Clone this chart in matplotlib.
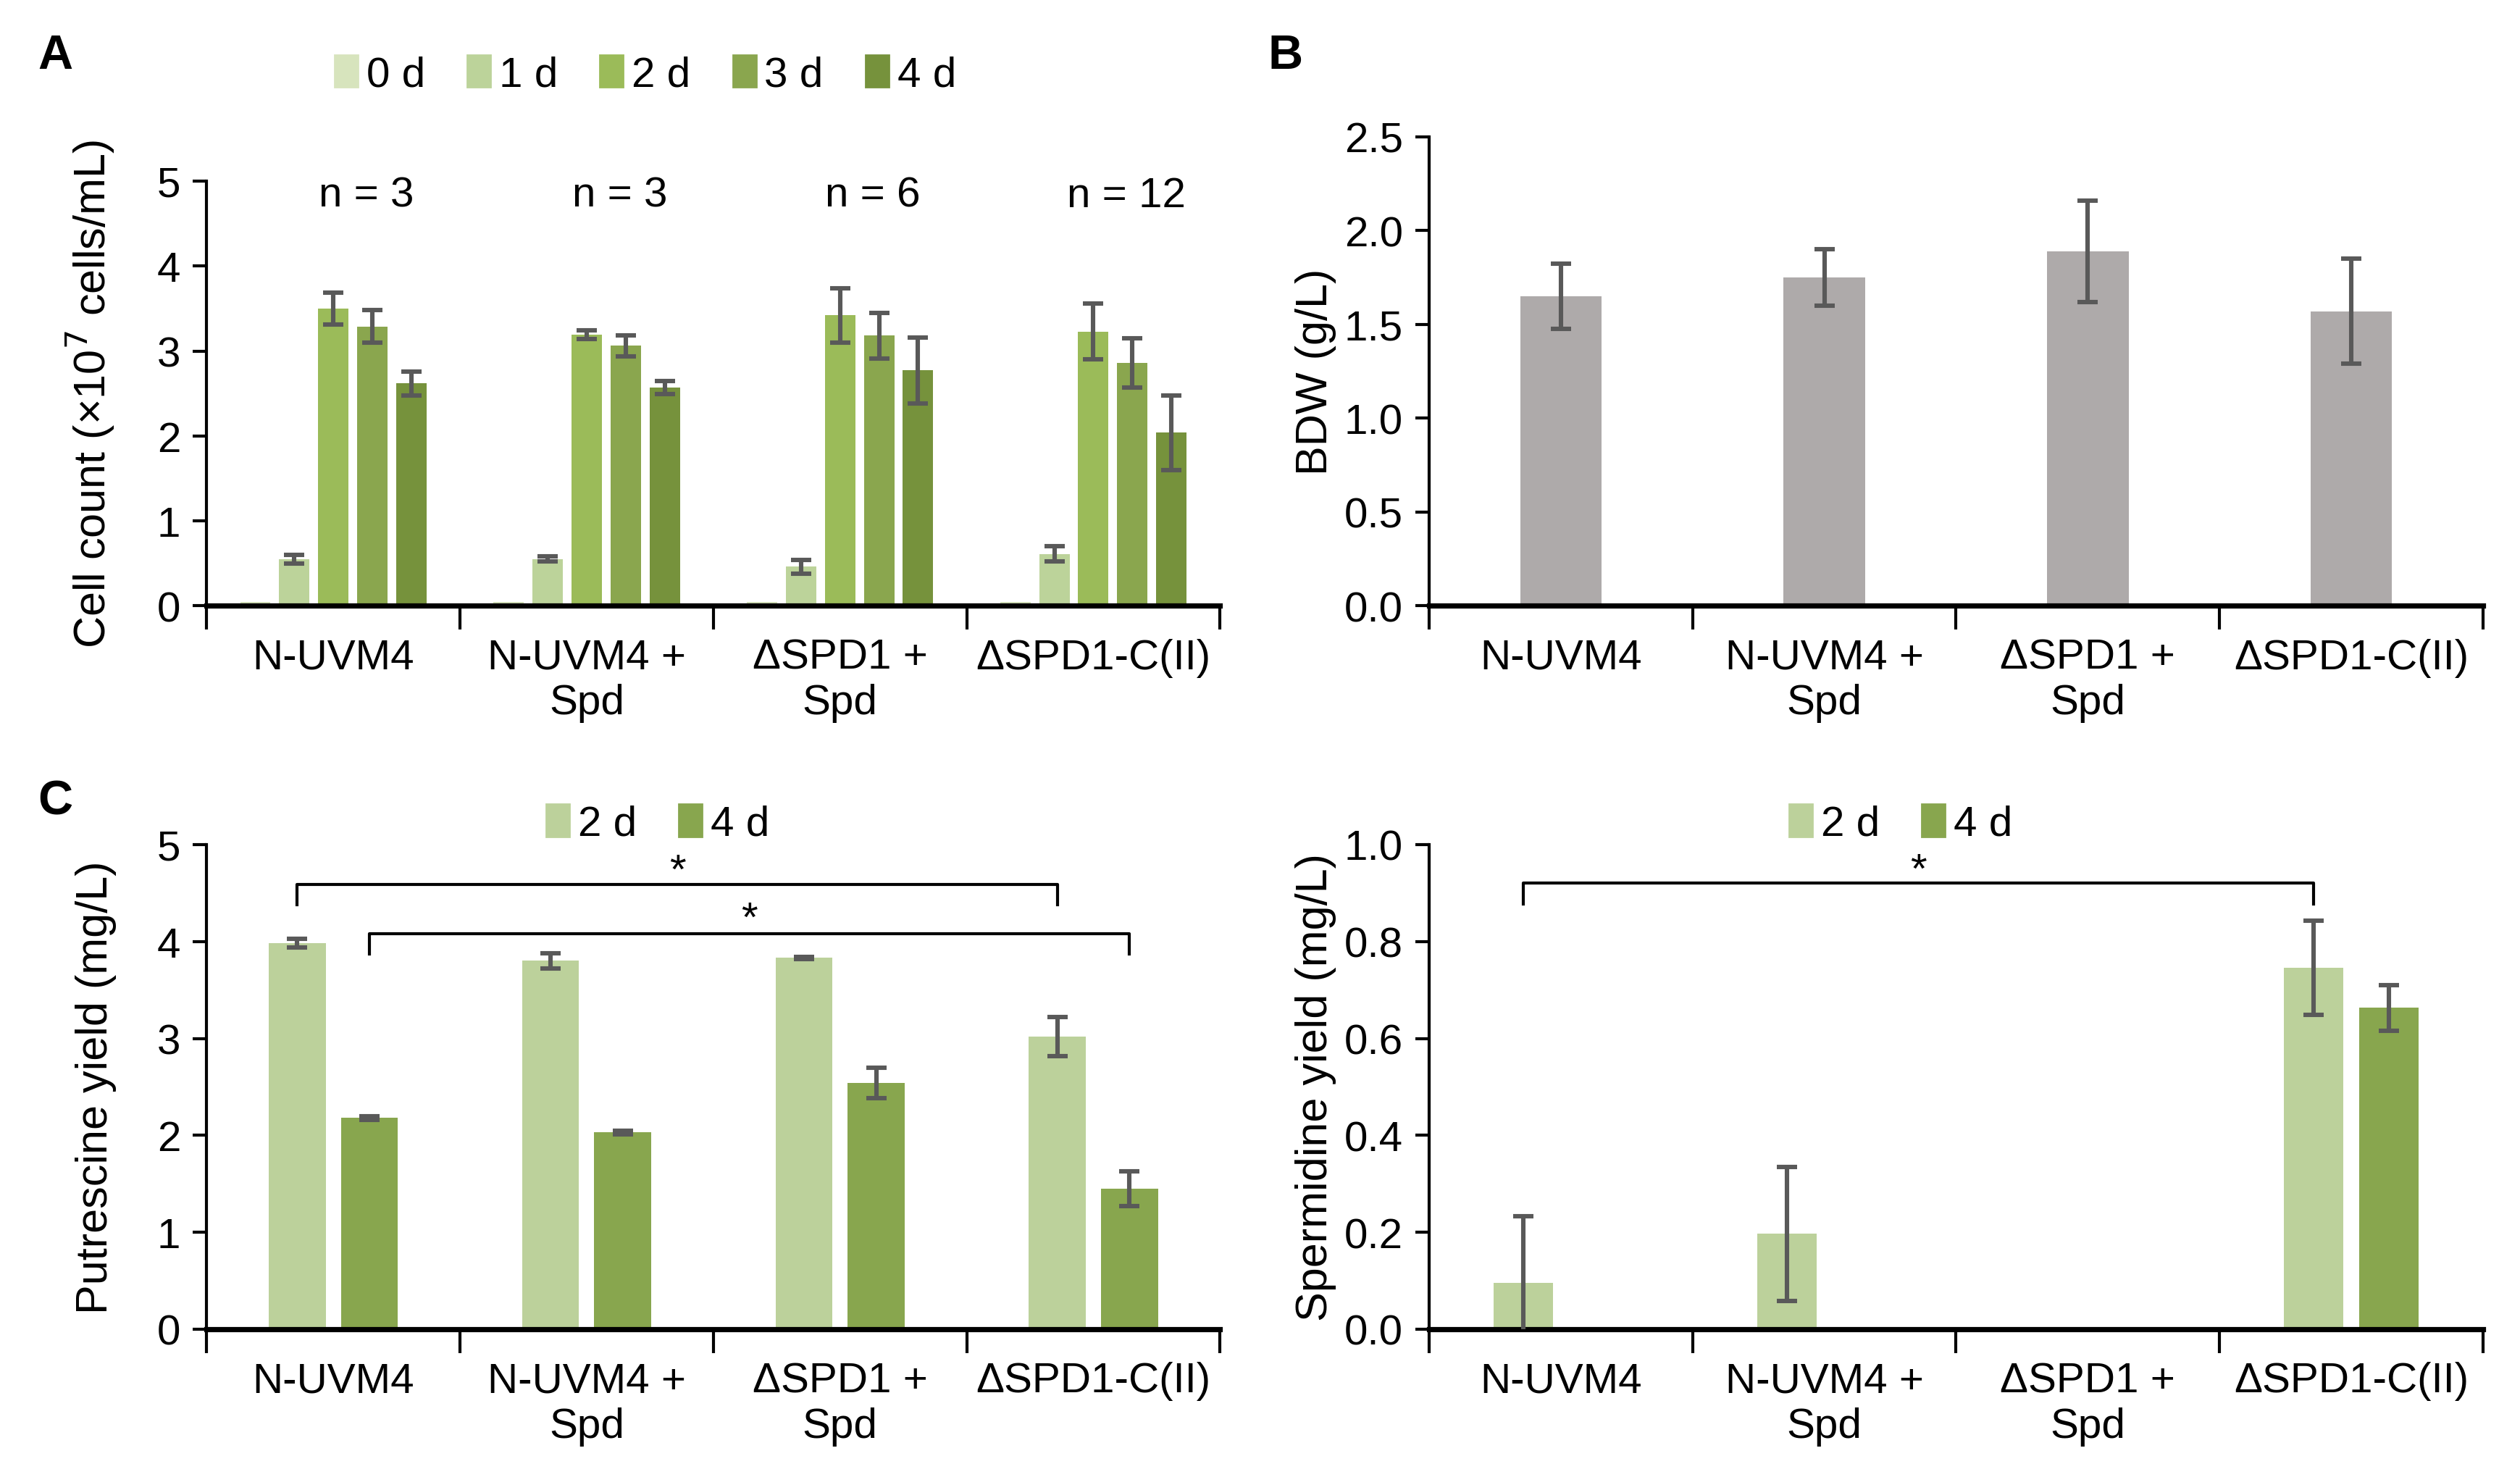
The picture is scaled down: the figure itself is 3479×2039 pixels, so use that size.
import numpy as np
import matplotlib
matplotlib.use("Agg")
import matplotlib.pyplot as plt
from matplotlib.patches import Patch

plt.rcParams['font.family'] = ['Liberation Sans', 'DejaVu Sans']

strains = ['N-UVM4', 'N-UVM4 +\nSpd', '\u0394SPD1 +\nSpd', '\u0394SPD1-C(II)']

# A: cell count (x10^7 cells/mL)
days_a = ['0 d', '1 d', '2 d', '3 d', '4 d']
count_mean = [
    [0.05, 0.55, 3.50, 3.29, 2.62],
    [0.05, 0.55, 3.19, 3.06, 2.57],
    [0.05, 0.46, 3.42, 3.18, 2.77],
    [0.05, 0.61, 3.23, 2.86, 2.04],
]
count_err = [
    [0.0, 0.05, 0.19, 0.19, 0.14],
    [0.0, 0.03, 0.05, 0.12, 0.08],
    [0.0, 0.08, 0.32, 0.27, 0.39],
    [0.0, 0.09, 0.33, 0.29, 0.44],
]
n_labels = ['n = 3', 'n = 3', 'n = 6', 'n = 12']

# B: biomass dry weight
bdw_mean = [1.65, 1.75, 1.89, 1.57]
bdw_err = [0.175, 0.15, 0.27, 0.28]

# C: putrescine / spermidine yields
days_c = ['2 d', '4 d']
put_mean = [[3.98, 2.18], [3.80, 2.03], [3.83, 2.54], [3.02, 1.45]]
put_err = [[0.045, 0.02], [0.08, 0.02], [0.01, 0.16], [0.20, 0.18]]
spd_mean = [[0.095, 0.0], [0.197, 0.0], [0.0, 0.0], [0.746, 0.663]]
spd_err = [[0.138, 0.0], [0.138, 0.0], [0.0, 0.0], [0.097, 0.047]]

cols_a = ['#d7e4bd', '#bcd39a', '#9bbb59', '#8aa64e', '#76923c']
cols_c = ['#bcd19b', '#88a64e']
grey = '#aeaaaa'
errc = '#595959'
FS = 21
FL = 22

fig = plt.figure(figsize=(17.4, 10.2), dpi=200)

def style(ax, ymax, step, fmt):
    ax.set_xlim(-0.5, 3.5)
    ax.set_ylim(0, ymax)
    ax.spines['top'].set_visible(False)
    ax.spines['right'].set_visible(False)
    ax.spines['left'].set_linewidth(1.5)
    ax.spines['bottom'].set_linewidth(2.6)
    ax.set_yticks(np.arange(0, ymax + step / 2, step))
    ax.set_yticklabels([fmt.format(v) for v in np.arange(0, ymax + step / 2, step)])
    ax.tick_params(axis='y', direction='out', length=7, width=1.5, labelsize=FS, pad=6)
    ax.set_xticks(np.arange(-0.5, 4, 1))
    ax.set_xticklabels([])
    ax.tick_params(axis='x', which='major', direction='out', length=12, width=1.5)
    ax.set_xticks(np.arange(4), minor=True)
    ax.set_xticklabels(strains, minor=True, fontsize=FS)
    ax.tick_params(axis='x', which='minor', length=0, pad=16)

def ebar(ax, x, y, e):
    ax.errorbar(x, y, yerr=e, fmt='none', ecolor=errc, elinewidth=2.2,
                capsize=5, capthick=2.2, zorder=3)

def bracket(ax, x1, x2, y, drop, star_y):
    ax.plot([x1, x1, x2, x2], [y - drop, y, y, y - drop], color='black', lw=1.5, clip_on=False)
    ax.text((x1 + x2) / 2, star_y, '*', ha='center', va='center', fontsize=FS)

# ---- A
axA = fig.add_axes([0.082, 0.5895, 0.402, 0.2875])
x = np.arange(4)
wa = 0.12
for j in range(5):
    pos = x + (j - 2) * 0.154
    vals = [count_mean[i][j] for i in range(4)]
    errs = [count_err[i][j] for i in range(4)]
    axA.bar(pos, vals, width=wa, color=cols_a[j], label=days_a[j], zorder=2)
    if j > 0:
        ebar(axA, pos, vals, errs)
style(axA, 5, 1, '{:.0f}')
axA.set_ylabel('Cell count (\u00d710$^{7}$ cells/mL)', fontsize=FL, labelpad=20)
for i in range(4):
    axA.text(i + 0.13, 4.83, n_labels[i], ha='center', va='center', fontsize=FS)
fig.legend(handles=[Patch(color=c, label=l) for c, l in zip(cols_a, days_a)],
           loc='center', bbox_to_anchor=(0.256, 0.949), ncol=5, frameon=False,
           fontsize=FS, handlelength=0.55, handleheight=0.8, handletextpad=0.2,
           columnspacing=1.0)

# ---- B
axB = fig.add_axes([0.567, 0.5895, 0.418, 0.3175])
axB.bar(x, bdw_mean, width=0.31, color=grey, zorder=2)
ebar(axB, x, bdw_mean, bdw_err)
style(axB, 2.5, 0.5, '{:.1f}')
axB.set_ylabel('BDW (g/L)', fontsize=FL)

# ---- C
for k, (mean, err, ymax, step, fmt, lab, left) in enumerate([
        (put_mean, put_err, 5, 1, '{:.0f}', 'Putrescine yield (mg/L)', 0.082),
        (spd_mean, spd_err, 1.0, 0.2, '{:.1f}', 'Spermidine yield (mg/L)', 0.567)]):
    w = 0.402 if k == 0 else 0.418
    ax = fig.add_axes([left, 0.100, w, 0.328])
    for j in range(2):
        pos = x + (j - 0.5) * 0.285
        vals = [mean[i][j] for i in range(4)]
        errs = [err[i][j] for i in range(4)]
        ax.bar(pos, vals, width=0.225, color=cols_c[j], zorder=2)
        keep = [i for i in range(4) if vals[i] > 0]
        ebar(ax, pos[keep], np.array(vals)[keep], np.array(errs)[keep])
    style(ax, ymax, step, fmt)
    if k == 0:
        ax.set_ylabel(lab, fontsize=FL, labelpad=20)
        bracket(ax, 0 - 0.1425, 3 - 0.1425, 4.59, 0.21, 4.72)
        bracket(ax, 0 + 0.1425, 3 + 0.1425, 4.08, 0.21, 4.22)
        lx = 0.261
    else:
        ax.set_ylabel(lab, fontsize=FL)
        bracket(ax, 0 - 0.1425, 3 - 0.1425, 0.92, 0.042, 0.945)
        lx = 0.754
    fig.legend(handles=[Patch(color=c, label=l) for c, l in zip(cols_c, days_c)],
               loc='center', bbox_to_anchor=(lx, 0.442), ncol=2, frameon=False,
               fontsize=FS, handlelength=0.55, handleheight=0.8, handletextpad=0.2,
               columnspacing=1.0)

fig.text(0.022, 0.962, 'A', fontsize=24, fontweight='bold', ha='center', va='center')
fig.text(0.510, 0.962, 'B', fontsize=24, fontweight='bold', ha='center', va='center')
fig.text(0.022, 0.457, 'C', fontsize=24, fontweight='bold', ha='center', va='center')

fig.savefig('out.png', dpi=200, facecolor='white')
